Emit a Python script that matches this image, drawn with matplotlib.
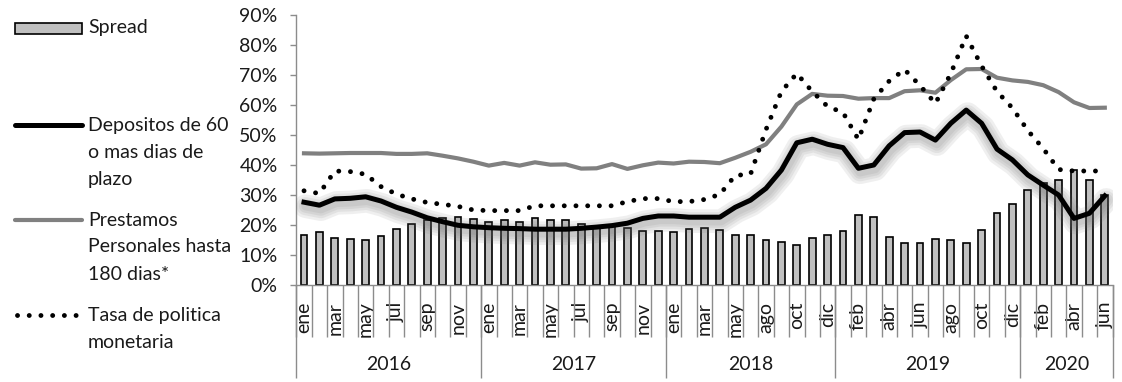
import numpy as np
import matplotlib
matplotlib.use("Agg")
import matplotlib.pyplot as plt
import matplotlib.transforms as mtransforms
from matplotlib.patches import Rectangle
from matplotlib.lines import Line2D
from matplotlib.ticker import PercentFormatter

# monthly categories (June 2018 has no observation)
months_2016 = ["ene", "feb", "mar", "abr", "may", "jun", "jul", "ago", "sep", "oct", "nov", "dic"]
months_2017 = ["ene", "feb", "mar", "abr", "may", "jun", "jul", "ago", "sep", "oct", "nov", "dic"]
months_2018 = ["ene", "feb", "mar", "abr", "may", "jul", "ago", "sep", "oct", "nov", "dic"]
months_2019 = ["ene", "feb", "mar", "abr", "may", "jun", "jul", "ago", "sep", "oct", "nov", "dic"]
months_2020 = ["ene", "feb", "mar", "abr", "may", "jun"]
years = ["2016", "2017", "2018", "2019", "2020"]

# rates in %
spread = [16.8, 17.6, 15.6, 15.4, 15.0, 16.4, 18.7, 20.2, 21.7, 22.2, 22.8, 22.1,
          21.0, 21.7, 21.1, 22.3, 21.8, 21.8, 20.3, 19.5, 19.8, 18.9, 18.1, 18.0,
          17.6, 18.7, 18.9, 18.4, 16.8, 16.7, 15.1, 14.2, 13.3, 15.7, 16.7,
          18.0, 23.4, 22.8, 16.1, 14.0, 14.0, 15.5, 15.1, 13.9, 18.2, 23.9, 27.0,
          31.7, 33.9, 35.0, 38.5, 34.9, 30.0]

depositos = [27.6, 26.6, 28.7, 28.9, 29.4, 28.0, 25.9, 24.3, 22.4, 21.1, 19.9, 19.4,
             19.1, 18.9, 18.8, 18.6, 18.6, 18.6, 18.9, 19.3, 19.8, 20.6, 22.2, 23.0,
             23.0, 22.6, 22.6, 22.6, 25.9, 28.3, 32.2, 38.3, 47.4, 48.6, 46.9,
             45.8, 38.9, 40.0, 46.4, 50.8, 51.0, 48.3, 53.9, 58.3, 53.9, 45.3, 41.7,
             36.7, 33.3, 30.0, 22.2, 23.9, 29.7]

prestamos = [43.9, 43.8, 43.9, 44.0, 44.0, 44.0, 43.7, 43.7, 43.9, 43.1, 42.2, 41.1,
             39.8, 40.7, 39.8, 40.9, 40.1, 40.2, 38.8, 38.9, 40.3, 38.7, 39.9, 40.8,
             40.5, 41.1, 41.0, 40.6, 42.4, 44.4, 46.9, 52.8, 60.2, 63.7, 63.1,
             63.0, 62.1, 62.3, 62.3, 64.6, 64.9, 64.1, 68.3, 71.9, 72.0, 69.1, 68.2,
             67.7, 66.6, 64.3, 60.9, 59.0, 59.1]

tasa_pm = [31.4, 30.5, 38.0, 37.8, 36.9, 32.8, 30.3, 28.7, 27.5, 26.9, 26.2, 25.0,
           24.8, 24.8, 24.8, 26.4, 26.4, 26.4, 26.4, 26.4, 26.4, 27.8, 28.8, 28.8,
           27.8, 27.8, 28.5, 30.2, 36.5, 37.0, 51.8, 64.5, 70.5, 64.5, 59.5,
           57.5, 48.5, 62.0, 68.0, 71.8, 66.5, 60.5, 70.5, 83.0, 73.0, 64.5, 59.0,
           51.5, 45.5, 38.5, 38.0, 38.0, 38.0]

FONT = "Lato"
FS = 14
TXT = "#1a1a1a"
AXC = "#8c8c8c"
DOTS = (0, (0.01, 2.4))


def main():
    plt.rcParams["font.family"] = [FONT, "DejaVu Sans"]
    groups = [months_2016, months_2017, months_2018, months_2019, months_2020]
    months = [m for g in groups for m in g]
    x = np.arange(len(months))

    fig = plt.figure(figsize=(11.22, 3.82), dpi=100)

    # legend panel in pixel coordinates
    leg = fig.add_axes([0, 0, 1, 1])
    leg.set_xlim(0, 1122)
    leg.set_ylim(382, 0)
    leg.axis("off")

    ax = fig.add_axes([296.3 / 1122, 1 - 285 / 382, (1112.5 - 296.3) / 1122, 270 / 382])

    ax.bar(x, spread, width=0.45, color="#c0c0c0", edgecolor="black", linewidth=1.2, zorder=2)
    ax.plot(x, prestamos, color="#808080", linewidth=3.0, zorder=3, solid_joinstyle="round")

    # soft shadow under the deposit rate line
    shadow = mtransforms.offset_copy(ax.transData, fig=fig, x=1.5, y=-4, units="dots")
    for lw in (17, 13, 9.5, 6):
        ax.plot(x, depositos, color="#6a6a6a", linewidth=lw, alpha=0.1, transform=shadow,
                zorder=3.5, solid_capstyle="round", solid_joinstyle="round")
    ax.plot(x, depositos, color="black", linewidth=3.6, zorder=4, solid_joinstyle="round")

    ax.plot(x, tasa_pm, color="black", linewidth=3.5, linestyle=DOTS,
            dash_capstyle="round", zorder=5)

    ax.set_xlim(-0.5, len(months) - 0.5)
    ax.set_ylim(0, 90)
    ax.set_yticks(range(0, 91, 10))
    ax.yaxis.set_major_formatter(PercentFormatter(decimals=0))
    ax.tick_params(axis="y", direction="out", length=4.5, width=1, color=AXC, pad=9,
                   labelsize=FS, labelcolor=TXT)

    ticks = x[::2]
    ax.set_xticks(ticks)
    ax.set_xticklabels([months[i] for i in ticks], rotation=90, va="top", ha="center")
    ax.tick_params(axis="x", length=0, pad=12, labelsize=FS, labelcolor=TXT)

    for side in ("top", "right"):
        ax.spines[side].set_visible(False)
    for side in ("left", "bottom"):
        ax.spines[side].set_color(AXC)
        ax.spines[side].set_linewidth(1)

    # multi-level category axis: month and year separators
    xt = ax.get_xaxis_transform()
    bounds = np.cumsum([0] + [len(g) for g in groups]) - 0.5
    ax.vlines(np.arange(len(months) + 1) - 0.5, -52 / 270, 0, transform=xt,
              colors=AXC, linewidth=1, clip_on=False)
    ax.vlines(bounds, -93 / 270, 0, transform=xt, colors=AXC, linewidth=1, clip_on=False)
    for yr, a, b in zip(years, bounds[:-1], bounds[1:]):
        ax.text((a + b) / 2, -80 / 270, yr, transform=xt, ha="center", va="center",
                fontsize=FS, color=TXT)

    # legend
    leg.add_patch(Rectangle((15, 23), 67, 11, facecolor="#c0c0c0", edgecolor="black", linewidth=1.2))
    leg.add_line(Line2D([15, 82], [125, 125], color="black", linewidth=3.6, solid_capstyle="round"))
    leg.add_line(Line2D([15, 82], [220, 220], color="#808080", linewidth=3.0, solid_capstyle="round"))
    leg.add_line(Line2D([17, 80], [315, 315], color="black", linewidth=3.5,
                        linestyle=DOTS, dash_capstyle="round"))

    entries = [(28, ["Spread"]),
               (125, ["Depositos de 60", "o mas dias de", "plazo"]),
               (220, ["Prestamos", "Personales hasta", "180 dias*"]),
               (315, ["Tasa de politica", "monetaria"])]
    for y0, lines in entries:
        for k, line in enumerate(lines):
            leg.text(88, y0 + 27 * k, line, ha="left", va="center", fontsize=FS, color=TXT)

    fig.savefig("out.png", dpi=100)


if __name__ == "__main__":
    main()
